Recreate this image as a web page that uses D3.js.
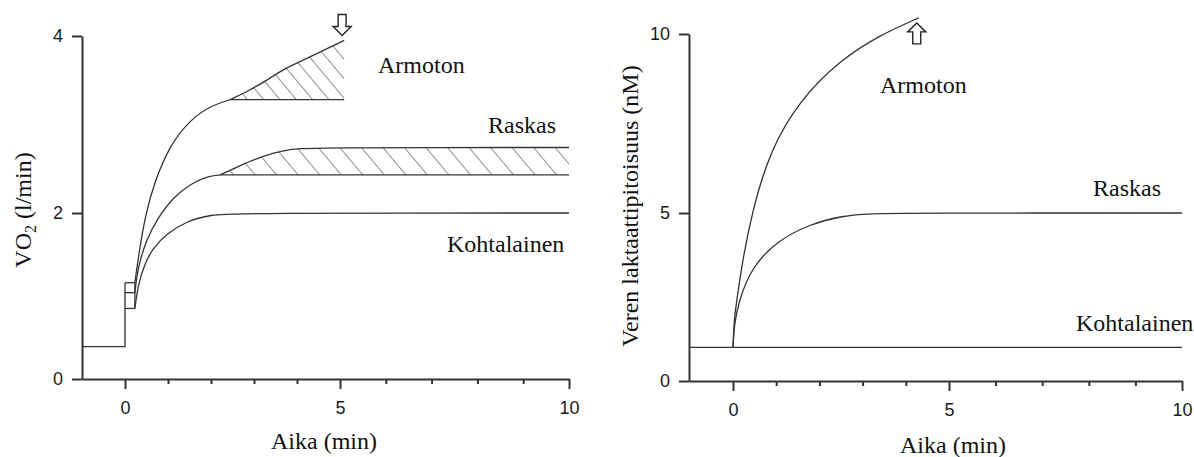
<!DOCTYPE html>
<html>
<head>
<meta charset="utf-8">
<script src="https://cdn.jsdelivr.net/npm/d3@7"></script>
<style>
  html, body { margin: 0; padding: 0; background: #fff; }
  svg { display: block; }
  .label { font-family: "Liberation Serif", "Times New Roman", serif; font-size: 24px; fill: #111; }
</style>
</head>
<body>
<svg id="chart" width="1194" height="457"></svg>
<script>
// Shared ticks
const majorTicks = [0, 5, 10];
const minorTicks = [1, 2, 3, 4, 6, 7, 8, 9];
const vo2Ticks = [0, 2, 4];
const lacTicks = [0, 5, 10];

// Left panel: VO2 (l/min)
const vo2Phase1End = 0.23;
const vo2Baseline = [[-1, 0.39], [0, 0.39], [0, 1.16]];
const vo2Phase1Edge = [[vo2Phase1End, 0.85], [vo2Phase1End, 1.16]];
const vo2Kohtalainen = [[0.23, 0.85], [0.3, 1.12], [0.45, 1.38], [0.65, 1.58], [0.97, 1.75], [1.43, 1.90], [1.98, 1.98], [2.67, 2.0], [10, 2.0]];
const vo2Raskas = [[0.23, 1.04], [0.3, 1.35], [0.5, 1.68], [0.74, 1.92], [1.12, 2.18], [1.59, 2.35], [1.98, 2.42], [2.21, 2.43]];
const vo2RaskasBase = [[2.21, 2.43], [10, 2.43]];
const vo2RaskasSlow = [[2.21, 2.43], [2.52, 2.50], [2.98, 2.60], [3.45, 2.68], [3.84, 2.72], [4.23, 2.74], [10, 2.74]];
const vo2Armoton = [[0.23, 1.16], [0.3, 1.43], [0.47, 1.98], [0.7, 2.37], [1.05, 2.77], [1.51, 3.05], [1.98, 3.21], [2.44, 3.28]];
const vo2ArmotonBase = [[2.44, 3.28], [5.09, 3.28]];
const vo2ArmotonSlow = [[2.44, 3.28], [2.91, 3.39], [3.30, 3.50], [3.67, 3.62], [4.07, 3.71], [4.46, 3.80], [4.84, 3.89], [5.09, 3.95]];
const vo2Steps = [[[0, 1.16], [vo2Phase1End, 1.16]], [[0, 1.04], [vo2Phase1End, 1.04]], [[0, 0.85], [vo2Phase1End, 0.85]]];

// Right panel: blood lactate
const lacKohtalainen = [[-1, 1.0], [10, 1.0]];
const lacRaskas = [[0, 1.0], [0.03, 1.7], [0.13, 2.35], [0.42, 3.37], [1.02, 4.17], [1.78, 4.67], [2.54, 4.92], [3.2, 4.98], [3.9, 5.0], [10, 5.0]];
const lacArmoton = [[0, 1.0], [0.03, 1.9], [0.09, 2.41], [0.21, 3.5], [0.44, 5.03], [0.86, 6.76], [1.55, 8.16], [2.48, 9.27], [3.4, 9.97], [4.3, 10.45]];

const svg = d3.select('#chart');
svg.append('rect').attr('width', 1194).attr('height', 457).attr('fill', '#fff');

// hatch patterns (two spacings, as in the picture)
const defs = svg.append('defs');
[['hatchA', 12.5], ['hatchB', 16.5]].forEach(([id, s]) => {
  const p = defs.append('pattern')
    .attr('id', id).attr('patternUnits', 'userSpaceOnUse')
    .attr('width', s).attr('height', s)
    .attr('patternTransform', 'rotate(-40)');
  p.append('line').attr('x1', 0).attr('y1', 0).attr('x2', 0).attr('y2', s)
    .attr('stroke', '#333').attr('stroke-width', 1.1);
});

const INK = '#333';
const SMOOTH = d3.curveBasis;

function styleAxis(sel) {
  sel.attr('font-family', '"Liberation Sans", Arial, sans-serif').attr('font-size', 18);
  sel.selectAll('.tick text').attr('fill', '#1a1a1a');
}

function drawPanel(g, x, y, yTicks) {
  const ax = g.append('g').attr('transform', `translate(0,${y.range()[0]})`);
  ax.call(d3.axisBottom(x).tickValues(majorTicks).tickSize(10).tickSizeOuter(0).tickPadding(12).tickFormat(d3.format('d')));
  styleAxis(ax);
  const axMinor = g.append('g').attr('transform', `translate(0,${y.range()[0]})`);
  axMinor.call(d3.axisBottom(x).tickValues(minorTicks).tickSize(5).tickSizeOuter(0).tickFormat(''));
  axMinor.select('.domain').remove();
  const ay = g.append('g').attr('transform', `translate(${x.range()[0]},0)`);
  ay.call(d3.axisLeft(y).tickValues(yTicks).tickSize(10).tickSizeOuter(0).tickPadding(9).tickFormat(d3.format('d')));
  styleAxis(ay);
  g.selectAll('.domain').attr('stroke', INK).attr('stroke-width', 2);
  g.selectAll('.tick line').attr('stroke', INK).attr('stroke-width', 2);
}

function path(g, data, x, y, curve, w) {
  g.append('path')
    .datum(data)
    .attr('fill', 'none')
    .attr('stroke', INK)
    .attr('stroke-width', w || 1.3)
    .attr('d', d3.line().x(d => x(d[0])).y(d => y(d[1])).curve(curve || d3.curveLinear));
}

function hatch(g, data, base, x, y, id) {
  g.append('path')
    .datum(data)
    .attr('fill', `url(#${id})`)
    .attr('stroke', 'none')
    .attr('d', d3.area().x(d => x(d[0])).y0(y(base)).y1(d => y(d[1])).curve(SMOOTH));
}

function arrow(g, cx, tipY, dir) {
  // hollow block arrow, dir = 1 points down, -1 points up
  const len = 21, head = 9, hw = 9, sw = 4;
  const base = tipY - dir * len, neck = tipY - dir * head;
  const pts = [[cx - sw, base], [cx + sw, base], [cx + sw, neck], [cx + hw, neck],
               [cx, tipY], [cx - hw, neck], [cx - sw, neck]];
  g.append('path').attr('d', 'M' + pts.join('L') + 'Z')
    .attr('fill', '#fff').attr('stroke', '#222').attr('stroke-width', 1.4);
}

function label(g, text, px, py) {
  g.append('text').attr('class', 'label').attr('x', px).attr('y', py).text(text);
}

// ---------- left panel ----------
const xL = d3.scaleLinear().domain([-1, 0, 5, 10]).range([82, 125, 340, 569]);
const yL = d3.scaleLinear().domain([0, 2, 4]).range([379, 213, 36]);
const gL = svg.append('g');
drawPanel(gL, xL, yL, vo2Ticks);

hatch(gL, vo2ArmotonSlow, 3.28, xL, yL, 'hatchA');
hatch(gL, vo2RaskasSlow, 2.43, xL, yL, 'hatchB');

path(gL, vo2Baseline, xL, yL);
vo2Steps.forEach(s => path(gL, s, xL, yL));
path(gL, vo2Phase1Edge, xL, yL);
path(gL, vo2Kohtalainen, xL, yL, SMOOTH);
path(gL, vo2Raskas, xL, yL, SMOOTH);
path(gL, vo2RaskasBase, xL, yL);
path(gL, vo2RaskasSlow, xL, yL, SMOOTH);
path(gL, vo2Armoton, xL, yL, SMOOTH);
path(gL, vo2ArmotonBase, xL, yL);
path(gL, vo2ArmotonSlow, xL, yL, SMOOTH);

const endL = vo2ArmotonSlow[vo2ArmotonSlow.length - 1];
arrow(gL, xL(endL[0]) - 2, yL(endL[1]) - 5, 1);

label(gL, 'Armoton', 378, 73);
label(gL, 'Raskas', 488, 133);
label(gL, 'Kohtalainen', 447, 252);

gL.append('text').attr('class', 'label').attr('text-anchor', 'middle')
  .attr('x', xL(5) - 16).attr('y', 449).text('Aika (min)');
const tL = gL.append('text').attr('class', 'label').attr('text-anchor', 'middle')
  .attr('transform', 'translate(31,210) rotate(-90)');
tL.append('tspan').text('VO');
tL.append('tspan').attr('font-size', '16px').attr('dy', 5).text('2');
tL.append('tspan').attr('dy', -5).text(' (l/min)');

// ---------- right panel ----------
const xR = d3.scaleLinear().domain([-1, 0, 5, 10]).range([689, 733, 949, 1182]);
const yR = d3.scaleLinear().domain([0, 5, 10]).range([381, 213, 34]);
const gR = svg.append('g');
drawPanel(gR, xR, yR, lacTicks);

path(gR, lacKohtalainen, xR, yR);
path(gR, lacRaskas, xR, yR, SMOOTH);
path(gR, lacArmoton, xR, yR, SMOOTH);

const endR = lacArmoton[lacArmoton.length - 1];
arrow(gR, xR(endR[0]) - 2, yR(endR[1]) + 5, -1);

label(gR, 'Armoton', 880, 93);
label(gR, 'Raskas', 1093, 196);
label(gR, 'Kohtalainen', 1076, 331);

gR.append('text').attr('class', 'label').attr('text-anchor', 'middle')
  .attr('x', 953).attr('y', 453).text('Aika (min)');
gR.append('text').attr('class', 'label').attr('text-anchor', 'middle')
  .attr('transform', 'translate(638,206) rotate(-90)')
  .text('Veren laktaattipitoisuus (nM)');
</script>
</body>
</html>
